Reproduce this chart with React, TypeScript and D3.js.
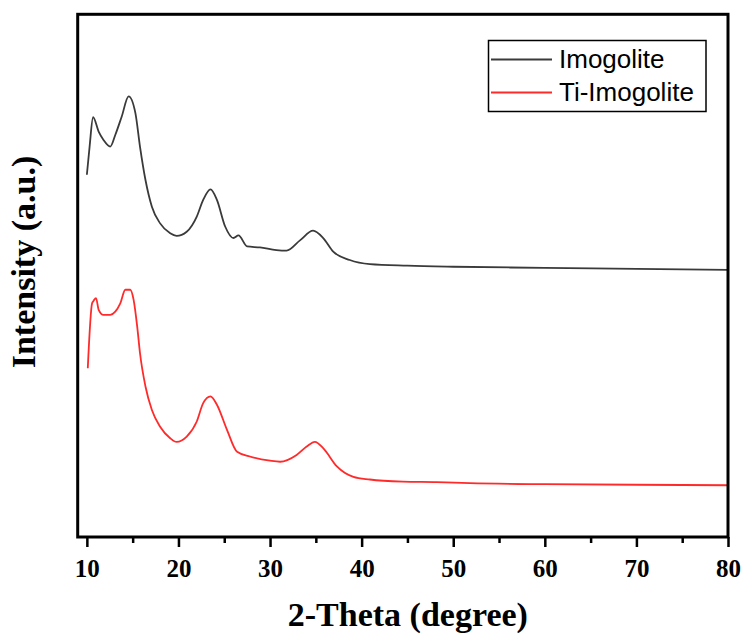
import React, { useEffect, useRef } from 'react';
import * as d3 from 'd3';

// 2-theta positions (degree) and intensity (a.u.)
const imoTheta = [10.0, 10.3, 10.68, 11.3, 11.8, 12.56, 13.1, 13.8, 14.56, 15.3, 15.8, 16.4, 17.1, 18.0, 19.1, 19.8, 20.9, 22.0, 22.7, 23.5, 24.2, 25.1, 26.0, 26.55, 27.5, 28.9, 30.7, 31.8, 33.3, 34.7, 35.8, 36.9, 38.7, 40.9, 45, 50, 60, 70, 80];
const imoIntensity = [69.3, 74.7, 80.3, 77.5, 76.0, 74.7, 76.9, 80.4, 84.3, 81.1, 74.7, 68.3, 63.2, 60.0, 58.1, 57.6, 58.4, 61.3, 64.5, 66.5, 64.5, 59.4, 57.2, 57.7, 55.6, 55.4, 54.9, 54.8, 56.8, 58.6, 57.2, 54.6, 53.0, 52.2, 51.9, 51.7, 51.5, 51.3, 51.1];

const tiTheta = [10.1, 10.57, 10.74, 11.0, 11.3, 11.8, 12.56, 13.1, 13.65, 14.2, 14.74, 15.1, 15.5, 15.8, 16.4, 17.1, 18.0, 19.1, 19.8, 20.9, 22.0, 22.7, 23.5, 24.2, 25.3, 26.4, 27.8, 30.0, 31.1, 32.9, 34.0, 34.9, 35.8, 37.3, 39.1, 40.9, 44.5, 48.2, 51.8, 60, 70, 80];
const tiIntensity = [32.3, 44.7, 45.2, 45.7, 43.4, 42.5, 42.5, 43.1, 44.7, 47.3, 47.3, 45.4, 40.2, 35.2, 28.8, 24.3, 21.1, 18.9, 18.2, 19.2, 22.1, 25.6, 26.9, 25.3, 20.5, 16.3, 15.4, 14.6, 14.4, 15.7, 17.3, 18.2, 17.0, 13.5, 11.5, 11.0, 10.6, 10.5, 10.3, 10.1, 10.0, 9.9];

const seriesNames = ['Imogolite', 'Ti-Imogolite'];
const seriesColors = ['#3a3a3a', '#ff2a2a'];
const xTicks = [10, 20, 30, 40, 50, 60, 70, 80];
const xMinorTicks = [15, 25, 35, 45, 55, 65, 75];

const App = () => {
  const svgRef = useRef(null);

  useEffect(() => {
    const width = 743;
    const height = 636;
    const margin = { top: 14.3, right: 15, bottom: 99, left: 77.7 };

    d3.select(svgRef.current).selectAll('*').remove();

    const svg = d3.select(svgRef.current)
      .attr('width', width)
      .attr('height', height)
      .style('background', '#fff');

    const x = d3.scaleLinear()
      .domain([9, 80])
      .range([margin.left, width - margin.right]);

    const y = d3.scaleLinear()
      .domain([0, 100])
      .range([height - margin.bottom, margin.top]);

    const series = [
      { name: seriesNames[0], color: seriesColors[0], pts: imoTheta.map((t, i) => [t, imoIntensity[i]]) },
      { name: seriesNames[1], color: seriesColors[1], pts: tiTheta.map((t, i) => [t, tiIntensity[i]]) },
    ];

    const line = d3.line()
      .x(d => x(d[0]))
      .y(d => y(d[1]))
      .curve(d3.curveMonotoneX);

    // Curves
    svg.selectAll('.trace')
      .data(series)
      .join('path')
      .attr('class', 'trace')
      .attr('d', d => line(d.pts))
      .attr('fill', 'none')
      .attr('stroke', d => d.color)
      .attr('stroke-width', 1.8);

    // Bottom axis: major and minor ticks, outward
    const axisY = height - margin.bottom;
    svg.append('g')
      .attr('transform', `translate(0,${axisY})`)
      .call(d3.axisBottom(x).tickValues(xMinorTicks).tickSize(6).tickFormat(() => ''))
      .call(g => g.select('.domain').remove())
      .selectAll('line').attr('stroke', '#000').attr('stroke-width', 2.5);

    const xAxis = svg.append('g')
      .attr('transform', `translate(0,${axisY})`)
      .call(d3.axisBottom(x).tickValues(xTicks).tickSize(10).tickPadding(12).tickFormat(d3.format('d')));
    xAxis.select('.domain').remove();
    xAxis.selectAll('line').attr('stroke', '#000').attr('stroke-width', 2.5);
    xAxis.selectAll('text')
      .attr('fill', '#000')
      .style('font-family', '"Liberation Serif", "Times New Roman", serif')
      .style('font-weight', 'bold')
      .style('font-size', '25px');

    // Frame
    svg.append('rect')
      .attr('x', margin.left)
      .attr('y', margin.top)
      .attr('width', width - margin.right - margin.left)
      .attr('height', axisY - margin.top)
      .attr('fill', 'none')
      .attr('stroke', '#000')
      .attr('stroke-width', 3);

    // Axis titles
    svg.append('text')
      .attr('x', (margin.left + width - margin.right) / 2 + 5)
      .attr('y', 626)
      .attr('text-anchor', 'middle')
      .style('font-family', '"Liberation Serif", "Times New Roman", serif')
      .style('font-weight', 'bold')
      .style('font-size', '34px')
      .text('2-Theta (degree)');

    svg.append('text')
      .attr('transform', 'translate(35,262) rotate(-90)')
      .attr('text-anchor', 'middle')
      .style('font-family', '"Liberation Serif", "Times New Roman", serif')
      .style('font-weight', 'bold')
      .style('font-size', '34px')
      .text('Intensity (a.u.)');

    // Legend
    const legend = svg.append('g');
    legend.append('rect')
      .attr('x', 488.5)
      .attr('y', 40.5)
      .attr('width', 217.5)
      .attr('height', 71)
      .attr('fill', '#fff')
      .attr('stroke', '#000')
      .attr('stroke-width', 1.5);

    const items = legend.selectAll('.item')
      .data(series)
      .join('g')
      .attr('class', 'item')
      .attr('transform', (d, i) => `translate(0,${59.5 + i * 33})`);

    items.append('line')
      .attr('x1', 491)
      .attr('x2', 552)
      .attr('stroke', d => d.color)
      .attr('stroke-width', 1.8);

    items.append('text')
      .attr('x', 559)
      .attr('y', 8.5)
      .attr('fill', '#000')
      .style('font-family', '"Liberation Sans", Arial, sans-serif')
      .style('font-size', '26px')
      .text(d => d.name);
  }, []);

  return (
    <div style={{ position: 'absolute', left: 0, top: 0 }}>
      <svg ref={svgRef}></svg>
    </div>
  );
};

export default App;
